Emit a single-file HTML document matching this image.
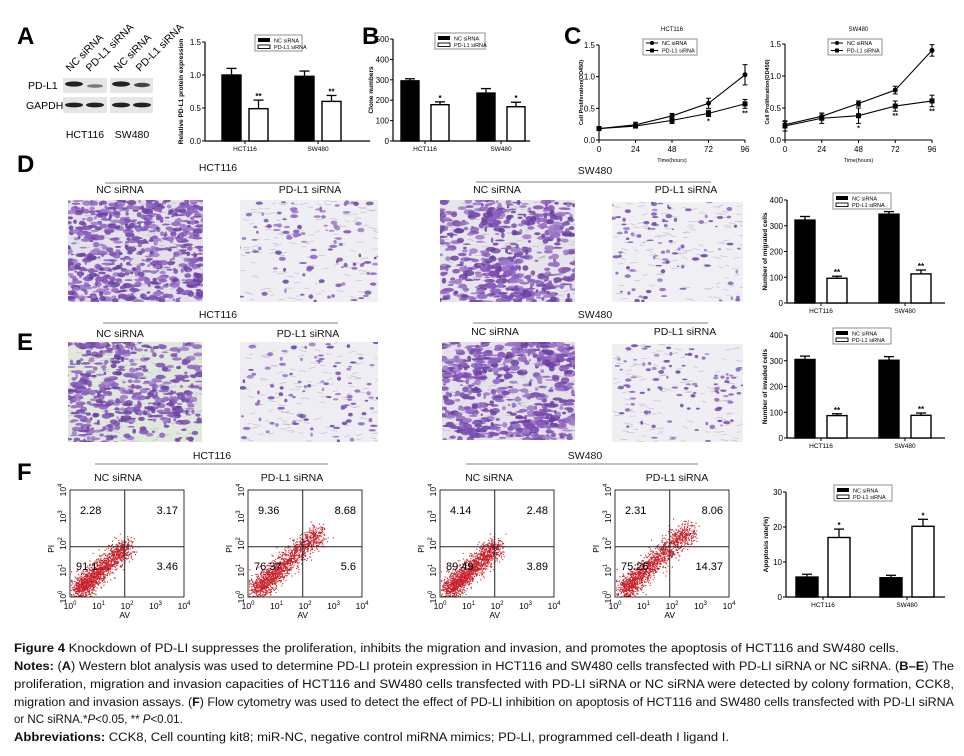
<!DOCTYPE html>
<html><head><meta charset="utf-8"><style>
html,body{margin:0;padding:0;background:#fff;}
svg{display:block;font-family:"Liberation Sans",sans-serif;}
</style></head><body>
<svg id="fig" width="964" height="756" viewBox="0 0 964 756" xmlns="http://www.w3.org/2000/svg">
<g id="static">
<text x="17" y="44" font-size="24" font-weight="bold">A</text>
<text x="362" y="44" font-size="24" font-weight="bold">B</text>
<text x="564" y="44" font-size="24" font-weight="bold">C</text>
<text x="17" y="172" font-size="24" font-weight="bold">D</text>
<text x="17" y="350" font-size="24" font-weight="bold">E</text>
<text x="17" y="480" font-size="24" font-weight="bold">F</text>
<g font-size="10.5">
<text x="28" y="89">PD-L1</text>
<text x="26" y="109">GAPDH</text>
<rect x="63" y="78" width="44" height="15" fill="#e6e6e6"/>
<rect x="63" y="97" width="44" height="16" fill="#e6e6e6"/>
<rect x="110" y="78" width="43" height="15" fill="#e6e6e6"/>
<rect x="110" y="97" width="43" height="16" fill="#e6e6e6"/>
<ellipse cx="74" cy="84" rx="9" ry="2.6" fill="#222"/>
<ellipse cx="95" cy="86" rx="8" ry="1.8" fill="#777"/>
<ellipse cx="121" cy="84" rx="9" ry="2.6" fill="#222"/>
<ellipse cx="142" cy="85" rx="8" ry="2.2" fill="#444"/>
<ellipse cx="74" cy="105" rx="9" ry="2.4" fill="#222"/>
<ellipse cx="95" cy="105" rx="9" ry="2.4" fill="#222"/>
<ellipse cx="121" cy="105" rx="9" ry="2.4" fill="#222"/>
<ellipse cx="142" cy="105" rx="9" ry="2.4" fill="#222"/>
<text transform="translate(70,72) rotate(-45)">NC siRNA</text>
<text transform="translate(90,72) rotate(-45)">PD-L1 siRNA</text>
<text transform="translate(118,72) rotate(-45)">NC siRNA</text>
<text transform="translate(140,72) rotate(-45)">PD-L1 siRNA</text>
<text x="85" y="138" text-anchor="middle">HCT116</text>
<text x="132" y="138" text-anchor="middle">SW480</text>
</g>
<g font-size="10.5" fill="#111">
<text x="218" y="171" text-anchor="middle">HCT116</text>
<line x1="105" y1="183" x2="340" y2="183" stroke="#555" stroke-width="0.8"/>
<text x="120" y="193" text-anchor="middle">NC siRNA</text>
<text x="310" y="193" text-anchor="middle">PD-L1 siRNA</text>
<text x="595" y="174" text-anchor="middle">SW480</text>
<line x1="476" y1="182" x2="711" y2="182" stroke="#555" stroke-width="0.8"/>
<text x="497" y="193" text-anchor="middle">NC siRNA</text>
<text x="686" y="193" text-anchor="middle">PD-L1 siRNA</text>
<text x="218" y="318" text-anchor="middle">HCT116</text>
<line x1="103" y1="323" x2="338" y2="323" stroke="#555" stroke-width="0.8"/>
<text x="120" y="337" text-anchor="middle">NC siRNA</text>
<text x="308" y="337" text-anchor="middle">PD-L1 siRNA</text>
<text x="595" y="318" text-anchor="middle">SW480</text>
<line x1="473" y1="323" x2="708" y2="323" stroke="#555" stroke-width="0.8"/>
<text x="495" y="335" text-anchor="middle">NC siRNA</text>
<text x="685" y="335" text-anchor="middle">PD-L1 siRNA</text>
<text x="212" y="459" text-anchor="middle">HCT116</text>
<line x1="95" y1="464" x2="328" y2="464" stroke="#555" stroke-width="0.8"/>
<text x="118" y="481" text-anchor="middle">NC siRNA</text>
<text x="292" y="481" text-anchor="middle">PD-L1 siRNA</text>
<text x="585" y="459" text-anchor="middle">SW480</text>
<line x1="466" y1="464" x2="698" y2="464" stroke="#555" stroke-width="0.8"/>
<text x="489" y="481" text-anchor="middle">NC siRNA</text>
<text x="677" y="481" text-anchor="middle">PD-L1 siRNA</text>
</g>
<g font-size="11.5" fill="#111" font-family="Liberation Sans, sans-serif">
<text x="14" y="652" textLength="885" lengthAdjust="spacingAndGlyphs"><tspan font-weight="bold">Figure 4</tspan> Knockdown of PD-LI suppresses the proliferation, inhibits the migration and invasion, and promotes the apoptosis of HCT116 and SW480 cells.</text>
<text x="14" y="670" textLength="940" lengthAdjust="spacingAndGlyphs"><tspan font-weight="bold">Notes:</tspan> (<tspan font-weight="bold">A</tspan>) Western blot analysis was used to determine PD-LI protein expression in HCT116 and SW480 cells transfected with PD-LI siRNA or NC siRNA. (<tspan font-weight="bold">B–E</tspan>) The</text>
<text x="14" y="688" textLength="940" lengthAdjust="spacingAndGlyphs">proliferation, migration and invasion capacities of HCT116 and SW480 cells transfected with PD-LI siRNA or NC siRNA were detected by colony formation, CCK8,</text>
<text x="14" y="706" textLength="940" lengthAdjust="spacingAndGlyphs">migration and invasion assays. (<tspan font-weight="bold">F</tspan>) Flow cytometry was used to detect the effect of PD-LI inhibition on apoptosis of HCT116 and SW480 cells transfected with PD-LI siRNA</text>
<text x="14" y="723">or NC siRNA.*<tspan font-style="italic">P</tspan>&lt;0.05, ** <tspan font-style="italic">P</tspan>&lt;0.01.</text>
<text x="14" y="741" textLength="715" lengthAdjust="spacingAndGlyphs"><tspan font-weight="bold">Abbreviations:</tspan> CCK8, Cell counting kit8; miR-NC, negative control miRNA mimics; PD-LI, programmed cell-death I ligand I.</text>
</g>
</g>
<g id="dyn"></g>
</svg>
<script>
// ---------- data ----------
const groupCats = ['HCT116', 'SW480'];
const aNC = [1.0, 0.98], aNCerr = [0.10, 0.08], aSi = [0.49, 0.60], aSiErr = [0.13, 0.09];
const aStars = ['**', '**'];
const aTicks = [0.0, 0.5, 1.0, 1.5];
const bNC = [295, 235], bNCerr = [10, 22], bSi = [178, 168], bSiErr = [14, 22];
const bStars = ['*', '*'];
const bTicks = [0, 100, 200, 300, 400, 500];
const dNC = [322, 345], dNCerr = [14, 10], dSi = [96, 113], dSiErr = [8, 15];
const dStars = ['**', '**'];
const eNC = [305, 302], eNCerr = [13, 14], eSi = [87, 88], eSiErr = [7, 9];
const eStars = ['**', '**'];
const deTicks = [0, 100, 200, 300, 400];
const fNC = [5.7, 5.5], fNCerr = [0.8, 0.7], fSi = [17.0, 20.2], fSiErr = [2.4, 2.0];
const fStars = ['*', '*'];
const fTicks = [0, 10, 20, 30];
const cTimes = [0, 24, 48, 72, 96];
const cTicks = [0.0, 0.5, 1.0, 1.5];
const c1NC = [0.18, 0.24, 0.38, 0.58, 1.03], c1NCerr = [0.03, 0.04, 0.04, 0.08, 0.16];
const c1Si = [0.18, 0.22, 0.31, 0.42, 0.57], c1SiErr = [0.03, 0.03, 0.05, 0.05, 0.07];
const c1Stars = ['', '', '', '*', '**'];
const c2NC = [0.24, 0.37, 0.57, 0.78, 1.40], c2NCerr = [0.05, 0.05, 0.04, 0.06, 0.09];
const c2Si = [0.22, 0.34, 0.38, 0.53, 0.61], c2SiErr = [0.08, 0.08, 0.12, 0.08, 0.09];
const c2Stars = ['', '', '*', '**', '**'];
const flowTitles = ['hct-nc', 'hct-si', 'sw-nc', 'sw-si'];
const flowUL = ['2.28', '9.36', '4.14', '2.31'];
const flowUR = ['3.17', '8.68', '2.48', '8.06'];
const flowLL = ['91.1', '76.37', '89.49', '75.26'];
const flowLR = ['3.46', '5.6', '3.89', '14.37'];

const NS = 'http://www.w3.org/2000/svg';
const dyn = document.getElementById('dyn');
function mk(tag, attrs, parent, text) {
  const e = document.createElementNS(NS, tag);
  for (const k in attrs) e.setAttribute(k, attrs[k]);
  if (text !== undefined) e.textContent = text;
  (parent || dyn).appendChild(e);
  return e;
}

function barChart(name, g, nc, ncErr, si, siErr, stars, ticks, yLabel) {
  const grp = mk('g', {});
  
  
  const ymax = ticks[ticks.length - 1];
  const y = v => g.y0 - (v / ymax) * (g.y0 - g.yTop);
  const cx = i => g.c0 + i * g.sp;
  mk('line', {x1: g.ax, y1: g.yTop, x2: g.ax, y2: g.y0, stroke: '#000', 'stroke-width': 1.2}, grp);
  mk('line', {x1: g.ax, y1: g.y0, x2: g.xEnd, y2: g.y0, stroke: '#000', 'stroke-width': 1.2}, grp);
  ticks.forEach(t => {
    mk('line', {x1: g.ax - 3, y1: y(t), x2: g.ax, y2: y(t), stroke: '#000'}, grp);
    const tl = mk('text', {x: g.ax - 4, y: y(t) + 3, 'font-size': 8, 'text-anchor': 'end'}, grp, g.fmt(t));
    
    
  });
  const yl = mk('text', {transform: `translate(${g.ax - g.ylOff},${(g.y0 + g.yTop) / 2}) rotate(-90)`, 'font-size': 6.5, 'font-weight': 'bold', 'text-anchor': 'middle'}, grp, yLabel);
  
  
  groupCats.forEach((c, i) => {
    const c0 = cx(i);
    mk('line', {x1: c0, y1: g.y0, x2: c0, y2: g.y0 + 3, stroke: '#000'}, grp);
    const cl = mk('text', {x: c0, y: g.y0 + 10, 'font-size': 6.5, 'text-anchor': 'middle'}, grp, c);
    
    
    [[nc, ncErr, '#000', -g.off - g.w], [si, siErr, '#fff', g.off]].forEach(([arr, er, fill, dx], k) => {
      const x0 = c0 + dx, v = arr[i];
      mk('line', {x1: x0 + g.w / 2, y1: y(v), x2: x0 + g.w / 2, y2: y(v + er[i]), stroke: '#000', 'stroke-width': 1.3}, grp);
      mk('line', {x1: x0 + g.w / 2 - 5, y1: y(v + er[i]), x2: x0 + g.w / 2 + 5, y2: y(v + er[i]), stroke: '#000', 'stroke-width': 1.3}, grp);
      const b = mk('rect', {x: x0, y: y(v), width: g.w, height: g.y0 - y(v), fill: fill, stroke: '#000', 'stroke-width': 1.4}, grp);
      
      
      if (k === 1) {
        const st = mk('text', {x: x0 + g.w / 2, y: y(v + er[i]) - 1, 'font-size': 8, 'font-weight': 'bold', 'text-anchor': 'middle'}, grp, stars[i]);
        
        
      }
    });
  });
  const lg = mk('g', {}, grp);
  
  
  mk('rect', {x: g.lx, y: g.ly, width: g.lw, height: 16, fill: '#fff', stroke: '#777', 'stroke-width': 0.8}, lg);
  mk('rect', {x: g.lx + 3, y: g.ly + 3, width: 12, height: 4, fill: '#000'}, lg);
  mk('rect', {x: g.lx + 3, y: g.ly + 10, width: 12, height: 3.5, fill: '#fff', stroke: '#000', 'stroke-width': 0.9}, lg);
  const le1 = mk('text', {x: g.lx + 19, y: g.ly + 7.5, 'font-size': 5.5}, lg, 'NC siRNA');
  
  
  const le2 = mk('text', {x: g.lx + 19, y: g.ly + 14, 'font-size': 5.5}, lg, 'PD-L1 siRNA');
  
  
}
const f1 = t => t.toFixed(1), f0 = t => String(t);
barChart('chart-a-pdl1-expression', {ax: 205, y0: 141, yTop: 42, xEnd: 370, c0: 245, sp: 73, w: 19, off: 4, lx: 255, ly: 35, lw: 47, ylOff: 22, fmt: f1}, aNC, aNCerr, aSi, aSiErr, aStars, aTicks, 'Relative PD-L1 protein expression');
barChart('chart-b-clone-numbers', {ax: 393, y0: 141, yTop: 39, xEnd: 530, c0: 425, sp: 76, w: 18, off: 6, lx: 435, ly: 33, lw: 50, ylOff: 20, fmt: f0}, bNC, bNCerr, bSi, bSiErr, bStars, bTicks, 'Clone numbers');
barChart('chart-d-migrated-cells', {ax: 787, y0: 303, yTop: 200, xEnd: 945, c0: 821, sp: 84, w: 20, off: 6, lx: 833, ly: 193, lw: 58, ylOff: 20, fmt: f0}, dNC, dNCerr, dSi, dSiErr, dStars, deTicks, 'Number of migrated cells');
barChart('chart-e-invaded-cells', {ax: 787, y0: 438, yTop: 335, xEnd: 945, c0: 821, sp: 84, w: 20, off: 6, lx: 833, ly: 328, lw: 58, ylOff: 20, fmt: f0}, eNC, eNCerr, eSi, eSiErr, eStars, deTicks, 'Number of invaded cells');
barChart('chart-f-apoptosis-rate', {ax: 786, y0: 597, yTop: 492, xEnd: 945, c0: 823, sp: 84, w: 22, off: 5, lx: 834, ly: 485, lw: 58, ylOff: 18, fmt: f0}, fNC, fNCerr, fSi, fSiErr, fStars, fTicks, 'Apoptosis rate(%)');

function lineChart(name, g, title, nc, ncErr, si, siErr, stars) {
  const grp = mk('g', {});
  
  
  const ymax = cTicks[cTicks.length - 1], tmax = cTimes[cTimes.length - 1];
  const x = t => g.ax + (t / tmax) * (g.xEnd - g.ax);
  const y = v => g.y0 - (v / ymax) * (g.y0 - g.yTop);
  mk('line', {x1: g.ax, y1: g.yTop, x2: g.ax, y2: g.y0, stroke: '#000', 'stroke-width': 1.1}, grp);
  mk('line', {x1: g.ax, y1: g.y0, x2: g.xEnd, y2: g.y0, stroke: '#000', 'stroke-width': 1.1}, grp);
  cTicks.forEach(t => {
    mk('line', {x1: g.ax - 3, y1: y(t), x2: g.ax, y2: y(t), stroke: '#000'}, grp);
    const tl = mk('text', {x: g.ax - 4, y: y(t) + 3, 'font-size': 8, 'text-anchor': 'end'}, grp, t.toFixed(1));
    
    
  });
  cTimes.forEach(t => {
    mk('line', {x1: x(t), y1: g.y0, x2: x(t), y2: g.y0 + 3, stroke: '#000'}, grp);
    const tl = mk('text', {x: x(t), y: g.y0 + 12, 'font-size': 8, 'text-anchor': 'middle'}, grp, String(t));
    
    
  });
  const xt = mk('text', {x: (g.ax + g.xEnd) / 2, y: g.y0 + 22, 'font-size': 5.5, 'text-anchor': 'middle'}, grp, 'Time(hours)');
  
  
  const yt = mk('text', {transform: `translate(${g.ax - 16},${(g.y0 + g.yTop) / 2}) rotate(-90)`, 'font-size': 5.5, 'font-weight': 'bold', 'text-anchor': 'middle'}, grp, 'Cell Proliferation(OD450)');
  
  
  const tt = mk('text', {x: (g.ax + g.xEnd) / 2, y: 31, 'font-size': 6, 'text-anchor': 'middle'}, grp, title);
  
  
  [[nc, ncErr, 'circle', 'nc'], [si, siErr, 'square', 'sirna']].forEach(([arr, er, shape, key]) => {
    const ln = mk('polyline', {points: arr.map((v, i) => x(cTimes[i]) + ',' + y(v)).join(' '), fill: 'none', stroke: '#000', 'stroke-width': 1.1}, grp);
    
    
    arr.forEach((v, i) => {
      const px = x(cTimes[i]);
      mk('line', {x1: px, y1: y(v - er[i]), x2: px, y2: y(v + er[i]), stroke: '#000', 'stroke-width': 1.1}, grp);
      mk('line', {x1: px - 2.5, y1: y(v + er[i]), x2: px + 2.5, y2: y(v + er[i]), stroke: '#000'}, grp);
      mk('line', {x1: px - 2.5, y1: y(v - er[i]), x2: px + 2.5, y2: y(v - er[i]), stroke: '#000'}, grp);
      let p;
      if (shape === 'circle') p = mk('circle', {cx: px, cy: y(v), r: 2.5, fill: '#000'}, grp);
      else p = mk('rect', {x: px - 2.5, y: y(v) - 2.5, width: 5, height: 5, fill: '#000'}, grp);
      
      
    });
  });
  si.forEach((v, i) => {
    if (!stars[i]) return;
    const st = mk('text', {x: x(cTimes[i]), y: y(v - siErr[i]) + 7, 'font-size': 7, 'font-weight': 'bold', 'text-anchor': 'middle'}, grp, stars[i]);
    
    
  });
  const lg = mk('g', {}, grp);
  
  
  mk('rect', {x: g.lx, y: 39, width: 54, height: 16, fill: '#fff', stroke: '#777', 'stroke-width': 0.8}, lg);
  mk('line', {x1: g.lx + 3, y1: 43, x2: g.lx + 15, y2: 43, stroke: '#000'}, lg);
  mk('circle', {cx: g.lx + 9, cy: 43, r: 2, fill: '#000'}, lg);
  mk('line', {x1: g.lx + 3, y1: 50.5, x2: g.lx + 15, y2: 50.5, stroke: '#000'}, lg);
  mk('rect', {x: g.lx + 7, y: 48.5, width: 4, height: 4, fill: '#000'}, lg);
  const a1 = mk('text', {x: g.lx + 19, y: 45, 'font-size': 5.5}, lg, 'NC siRNA');
  
  
  const a2 = mk('text', {x: g.lx + 19, y: 52.5, 'font-size': 5.5}, lg, 'PD-L1 siRNA');
  
  
}
lineChart('chart-c-hct116-proliferation', {ax: 599, xEnd: 745, y0: 140, yTop: 45, lx: 643}, 'HCT116', c1NC, c1NCerr, c1Si, c1SiErr, c1Stars);
lineChart('chart-c-sw480-proliferation', {ax: 785, xEnd: 932, y0: 140, yTop: 44, lx: 828}, 'SW480', c2NC, c2NCerr, c2Si, c2SiErr, c2Stars);

// ---------- micrographs (decorative texture) ----------
let seed = 12345;
function rnd() { seed = (seed * 1103515245 + 12345) & 0x7fffffff; return seed / 0x7fffffff; }
function gauss() { return Math.sqrt(-2 * Math.log(rnd() + 1e-9)) * Math.cos(2 * Math.PI * rnd()); }
function micro(name, x, y, w, h, n, bg, rmax, clustered) {
  const grp = mk('g', {});
  
  
  mk('rect', {x: x, y: y, width: w, height: h, fill: bg}, grp);
  const cp = 'cp' + name;
  const c = mk('clipPath', {id: cp}, grp);
  mk('rect', {x: x, y: y, width: w, height: h}, c);
  const gg = mk('g', {'clip-path': `url(#${cp})`}, grp);
  for (let i = 0; i < 120; i++) {
    const x1 = x + rnd() * w, y1 = y + rnd() * h;
    mk('line', {x1: x1.toFixed(1), y1: y1.toFixed(1), x2: (x1 + 4 + rnd() * 4).toFixed(1), y2: (y1 - 2 + rnd() * 4).toFixed(1), stroke: '#a9a4b8', 'stroke-width': 0.7, 'stroke-opacity': 0.6}, gg);
  }
  const centers = [];
  for (let k = 0; k < 7; k++) centers.push([x + rnd() * w, y + rnd() * h]);
  for (let i = 0; i < n; i++) {
    const shade = ['#7b4fb0', '#8d62bf', '#6a3fa0', '#9d79c8'][Math.floor(rnd() * 4)];
    let px, py;
    if (clustered && rnd() < 0.5) {
      const cc = centers[Math.floor(rnd() * centers.length)];
      px = cc[0] + gauss() * 14; py = cc[1] + gauss() * 10;
    } else { px = x + rnd() * w; py = y + rnd() * h; }
    mk('ellipse', {cx: px.toFixed(1), cy: py.toFixed(1), rx: (1.2 + rnd() * rmax).toFixed(1), ry: (0.8 + rnd() * rmax * 0.5).toFixed(1), fill: shade, 'fill-opacity': 0.85}, gg);
  }
}
micro('micrograph-d-hct-nc', 68, 200, 135, 102, 700, '#e4e1ea', 4, false);
micro('micrograph-d-hct-si', 240, 200, 138, 102, 110, '#efeef2', 3, true);
micro('micrograph-d-sw-nc', 440, 200, 135, 102, 650, '#e7e5ec', 4.5, true);
micro('micrograph-d-sw-si', 612, 202, 131, 100, 110, '#f0eff3', 2.6, true);
micro('micrograph-e-hct-nc', 68, 342, 134, 100, 620, '#e0e7dd', 4, true);
micro('micrograph-e-hct-si', 240, 342, 138, 100, 100, '#eeedf2', 2.6, false);
micro('micrograph-e-sw-nc', 442, 342, 133, 98, 720, '#e4e1ea', 4.5, true);
micro('micrograph-e-sw-si', 612, 344, 131, 98, 100, '#efeef2', 2.4, true);

// ---------- flow cytometry ----------
const flowPos = [[70, 490], [248, 490], [440, 490], [615, 490]];
const flowSpread = [1.0, 1.3, 1.0, 1.35];
flowTitles.forEach((t, k) => {
  const [x0, y0] = flowPos[k], w = 114, h = 107;
  const grp = mk('g', {});
  
  
  const dots = mk('g', {fill: '#c8202a'}, grp);
  seed = 777 + k * 31;
  for (let i = 0; i < 1500; i++) {
    const s = Math.pow(rnd(), 1.3) * flowSpread[k];
    const u = 0.08 + s * 0.42 + gauss() * 0.045;
    const v = 0.07 + s * 0.42 + gauss() * 0.05;
    const px = x0 + Math.min(Math.max(u, 0.01), 0.98) * w, py = y0 + h - Math.min(Math.max(v, 0.01), 0.98) * h;
    mk('rect', {x: px.toFixed(1), y: py.toFixed(1), width: 1.1, height: 1.1}, dots);
  }
  mk('rect', {x: x0, y: y0, width: w, height: h, fill: 'none', stroke: '#000', 'stroke-width': 0.8}, grp);
  mk('line', {x1: x0 + w * 0.48, y1: y0, x2: x0 + w * 0.48, y2: y0 + h, stroke: '#222', 'stroke-width': 1}, grp);
  mk('line', {x1: x0, y1: y0 + h * 0.53, x2: x0 + w, y2: y0 + h * 0.53, stroke: '#222', 'stroke-width': 1}, grp);
  const q = [[flowUL[k], x0 + 10, y0 + 24, 'start'], [flowUR[k], x0 + w - 6, y0 + 24, 'end'], [flowLL[k], x0 + 6, y0 + 80, 'start'], [flowLR[k], x0 + w - 6, y0 + 80, 'end']];
  q.forEach(([val, qx, qy, an], j) => {
    const tx = mk('text', {x: qx, y: qy, 'font-size': 11, 'text-anchor': an}, grp, val);
    
    
  });
  for (let e = 0; e <= 4; e++) {
    const tx = x0 + e * w / 4;
    const a = mk('text', {x: tx, y: y0 + h + 12, 'font-size': 8.5, 'text-anchor': 'middle'}, grp);
    
    
    a.appendChild(document.createTextNode('10'));
    mk('tspan', {dy: -4, 'font-size': 6}, a, String(e));
    const ty = y0 + h - e * h / 4;
    const b = mk('text', {transform: `translate(${x0 - 4},${ty}) rotate(-90)`, 'font-size': 8.5, 'text-anchor': 'middle'}, grp);
    
    
    b.appendChild(document.createTextNode('10'));
    mk('tspan', {dy: -4, 'font-size': 6}, b, String(e));
  }
  const av = mk('text', {x: x0 + w * 0.48, y: y0 + h + 21, 'font-size': 8.5, 'text-anchor': 'middle'}, grp, 'AV');
  
  
  const pi = mk('text', {transform: `translate(${x0 - 16},${y0 + h * 0.55}) rotate(-90)`, 'font-size': 8.5, 'text-anchor': 'middle'}, grp, 'PI');
  
  
});
</script>
</body></html>
